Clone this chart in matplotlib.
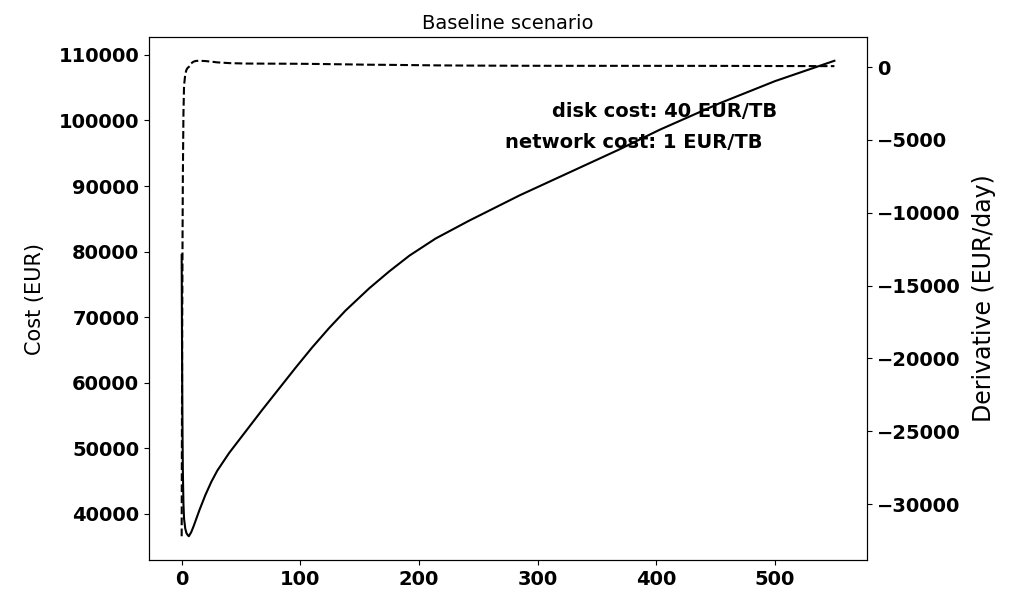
import matplotlib
matplotlib.use("Agg")
import matplotlib.pyplot as plt

# days since start
days = [0, 0.25, 0.5, 0.75, 1, 1.5, 2, 3, 4, 5, 6, 8, 10, 12, 15, 20, 25, 30, 40,
        54, 68, 82, 96, 110, 124, 138, 158, 175, 192, 214, 242, 285, 327, 369,
        403, 453, 500, 550]

# total cost (EUR)
cost = [79500, 68000, 58500, 51500, 46500, 41500, 39300, 37800, 37100, 36800,
        36600, 37200, 38100, 39100, 40600, 42900, 44900, 46600, 49300,
        52600, 55900, 59100, 62300, 65400, 68300, 71000, 74400, 77000, 79400,
        82000, 84700, 88600, 92100, 95600, 98600, 102600, 106000, 109100]

# derivative of cost (EUR/day)
deriv = [-32200, -24000, -17000, -11500, -7500, -3200, -1300, -500, -200, -60,
         0, 250, 370, 420, 430, 410, 370, 320, 270,
         240, 235, 230, 225, 215, 200, 185, 160, 150, 135,
         115, 100, 88, 84, 83, 82, 80, 70, 62]

disk_cost = 40
network_cost = 1

fig, ax1 = plt.subplots(figsize=(10.09, 5.93), dpi=100)
fig.subplots_adjust(left=0.1477, right=0.8593, top=0.9376, bottom=0.0556)

ax1.plot(days, cost, color='black', linewidth=1.5, zorder=2)
ax1.set_ylabel('Cost (EUR)', fontsize=15, labelpad=10)
ax1.set_title('Baseline scenario', fontsize=14)
ax1.text(0.875, 0.858, 'disk cost: %d EUR/TB' % disk_cost, transform=ax1.transAxes,
         ha='right', va='center', fontsize=14, fontweight='bold', zorder=1)
ax1.text(0.854, 0.799, 'network cost: %d EUR/TB' % network_cost, transform=ax1.transAxes,
         ha='right', va='center', fontsize=14, fontweight='bold', zorder=1)

ax2 = ax1.twinx()
ax2.plot(days, deriv, color='black', linestyle='--', linewidth=1.5)
ax2.set_ylabel('Derivative (EUR/day)', fontsize=17, labelpad=8)

for ax in (ax1, ax2):
    for lbl in ax.get_xticklabels() + ax.get_yticklabels():
        lbl.set_fontsize(14)
        lbl.set_fontweight('bold')

fig.savefig('out.png')
